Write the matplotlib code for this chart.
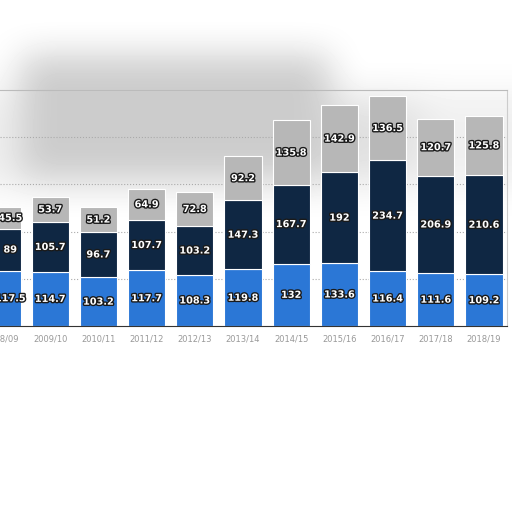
import numpy as np
import matplotlib
matplotlib.use("Agg")
import matplotlib.pyplot as plt
import matplotlib.patheffects as pe

seasons = ["2008/09", "2009/10", "2010/11", "2011/12", "2012/13", "2013/14",
           "2014/15", "2015/16", "2016/17", "2017/18", "2018/19"]
blue = [117.5, 114.7, 103.2, 117.7, 108.3, 119.8, 132, 133.6, 116.4, 111.6, 109.2]
navy = [89, 105.7, 96.7, 107.7, 103.2, 147.3, 167.7, 192, 234.7, 206.9, 210.6]
grey = [45.5, 53.7, 51.2, 64.9, 72.8, 92.2, 135.8, 142.9, 136.5, 120.7, 125.8]

fig = plt.figure(figsize=(5.12, 5.12), dpi=100)

# blurry grey smudge behind the chart (screenshot artefact)
bg = np.ones((512, 512))
bg[90:190, :] = 0.94
bg[55:180, 20:330] = 0.80
bg[100:175, 330:420] = 0.88
k = np.ones(41) / 41
for _ in range(2):
    bg = np.apply_along_axis(lambda r: np.convolve(r, k, mode="same"), 1, np.pad(bg, ((0, 0), (20, 20)), mode="edge"))[:, 20:-20]
    bg = np.apply_along_axis(lambda c: np.convolve(c, k, mode="same"), 0, np.pad(bg, ((20, 20), (0, 0)), mode="edge"))[20:-20, :]
bax = fig.add_axes([0, 0, 1, 1], zorder=0)
bax.imshow(bg, cmap="gray", vmin=0, vmax=1, aspect="auto")
bax.axis("off")

ax = fig.add_axes([0, 186 / 512, 507 / 512, 236 / 512], zorder=1)
ax.patch.set_alpha(0)
x = np.arange(len(seasons))
w = 0.77
b1 = ax.bar(x, blue, w, color="#2b77d6", edgecolor="white", linewidth=0.8)
b2 = ax.bar(x, navy, w, bottom=blue, color="#0f2743", edgecolor="white", linewidth=0.8)
b3 = ax.bar(x, grey, w, bottom=np.add(blue, navy), color="#b7b7b7", edgecolor="white", linewidth=0.8)

stroke = [pe.withStroke(linewidth=2, foreground="#1a1a1a")]
for bars, vals in [(b1, blue), (b2, navy), (b3, grey)]:
    labels = ax.bar_label(bars, labels=[f"{v:g}" for v in vals], label_type="center",
                          color="white", fontsize=7, fontweight="bold")
    for t in labels:
        t.set_path_effects(stroke)

ax.set_xlim(-2 / 48.2, 505 / 48.2)
ax.set_ylim(0, 500)
ax.set_yticks([100, 200, 300, 400])
ax.yaxis.grid(True, linestyle=":", color="#aaaaaa", linewidth=0.8)
ax.set_axisbelow(True)
ax.tick_params(axis="y", left=False, labelleft=False)
ax.set_xticks(x)
ax.set_xticklabels(seasons, fontsize=6, color="#999999")
ax.tick_params(axis="x", length=0, pad=6)
ax.spines["left"].set_visible(False)
ax.spines["top"].set_color("#bbbbbb")
ax.spines["right"].set_color("#cccccc")
ax.spines["bottom"].set_color("#333333")

fig.savefig("out.png", dpi=100)
